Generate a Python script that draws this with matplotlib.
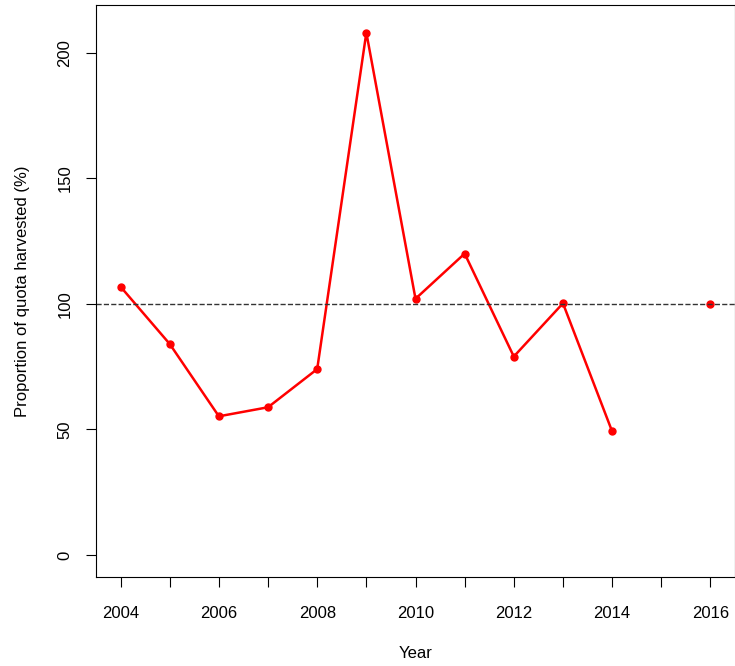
import matplotlib
matplotlib.use("Agg")
import matplotlib.pyplot as plt
import numpy as np

years = [2004, 2005, 2006, 2007, 2008, 2009, 2010, 2011, 2012, 2013, 2014, 2015, 2016]
pct = [106.8, 84.0, 55.2, 58.8, 74.0, 208.0, 102.0, 120.0, 79.0, 100.2, 49.2, np.nan, 99.8]

plt.rcParams['font.family'] = ['Liberation Sans', 'DejaVu Sans']
fig = plt.figure(figsize=(7.35, 6.66), dpi=100)
ax = fig.add_axes([96/735, 1-577/666, (735-96)/735, (577-5)/666])

ax.plot(years, pct, color="red", lw=1.8, marker="o", ms=5)
ax.axhline(100, color="#333333", ls="--", lw=1)

ax.set_xlim(2003.5, 2016.5)
ax.set_ylim(-8.8, 219)
ax.set_xticks(years)
ax.set_xticklabels([str(y) if y % 2 == 0 else "" for y in years])
ax.set_yticks([0, 50, 100, 150, 200])
ax.set_yticklabels(["0", "50", "100", "150", "200"], rotation=90, va="center")
ax.tick_params(labelsize=12, length=7)
ax.tick_params(axis="x", pad=14)
ax.tick_params(axis="y", pad=10)
ax.set_xlabel("Year", fontsize=12, labelpad=18)
ax.set_ylabel("Proportion of quota harvested (%)", fontsize=12, labelpad=20)

fig.savefig("out.png", dpi=100)
